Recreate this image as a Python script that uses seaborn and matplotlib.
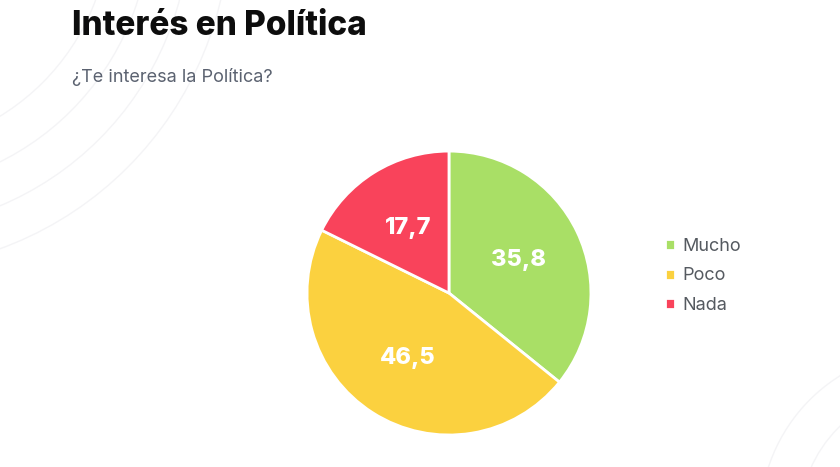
import matplotlib
matplotlib.use("Agg")
import matplotlib.pyplot as plt
import seaborn as sns
import numpy as np
from matplotlib.patches import Circle

sns.set_theme(style="white")
plt.rcParams['font.family'] = ['Inter', 'DejaVu Sans']

categories = ["Mucho", "Poco", "Nada"]
values = [35.8, 46.5, 17.7]
value_labels = ["35,8", "46,5", "17,7"]
colors = ["#a9df66", "#fbd13f", "#f9435b"]

fig = plt.figure(figsize=(8.4, 4.67), dpi=100)
fig.patch.set_facecolor("white")

# faint decorative arcs
bg = fig.add_axes([0, 0, 1, 1], zorder=-1)
bg.set_xlim(0, 840); bg.set_ylim(467, 0); bg.axis("off")
for r in [230, 270, 310, 350]:
    bg.add_patch(Circle((-120, -80), r, fill=False, ec="#f4f4f6", lw=1.0))
for r in [90, 130, 170]:
    bg.add_patch(Circle((930, 520), r, fill=False, ec="#f4f4f6", lw=1.0))

ax = fig.add_axes([0.3655, 0.0685, 0.338, 0.608])
wedges, _ = ax.pie(values, colors=colors, startangle=90, counterclock=False,
                   radius=1, wedgeprops=dict(edgecolor="white", linewidth=2))
ax.set_xlim(-1, 1); ax.set_ylim(-1, 1); ax.set_aspect("equal")
ax.axis("off")

cum = np.cumsum([0] + values)
total = sum(values)
for i, lab in enumerate(value_labels):
    mid = 90 - 360 * (cum[i] + values[i] / 2) / total
    t = np.deg2rad(mid)
    ax.text(0.54 * np.cos(t), 0.54 * np.sin(t), lab, ha="center", va="center",
            color="white", fontsize=17, fontweight="heavy")

fig.text(72 / 840, 1 - 26 / 467, "Interés en Política", fontsize=24,
         fontweight="heavy", color="#0d0d0d", ha="left", va="center")
fig.text(72 / 840, 1 - 77 / 467, "¿Te interesa la Política?", fontsize=13,
         fontweight="normal", color="#5b6270", ha="left", va="center")

leg = fig.legend(wedges, categories, loc="center left",
                 bbox_to_anchor=(649 / 840, 1 - 276 / 467), frameon=False,
                 prop=dict(size=13, weight="normal"),
                 handlelength=0.55, handleheight=0.55,
                 handletextpad=0.4, labelspacing=0.7)
for t in leg.get_texts():
    t.set_color("#555a60")

fig.savefig("out.png", dpi=100, facecolor="white")
